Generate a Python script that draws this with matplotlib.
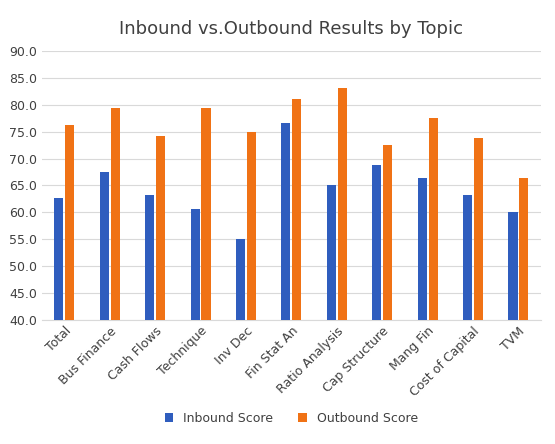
import numpy as np
import matplotlib.pyplot as plt

topics = ['Total', 'Bus Finance', 'Cash Flows', 'Technique', 'Inv Dec', 'Fin Stat An',
          'Ratio Analysis', 'Cap Structure', 'Mang Fin', 'Cost of Capital', 'TVM']
inbound = [62.7, 67.5, 63.3, 60.6, 55.0, 76.7, 65.0, 68.8, 66.3, 63.2, 60.1]
outbound = [76.2, 79.4, 74.2, 79.4, 75.0, 81.0, 83.2, 72.5, 77.6, 73.8, 66.3]

fig, ax = plt.subplots(figsize=(5.55, 4.44), dpi=100)
fig.subplots_adjust(left=0.075, right=0.975, top=0.885, bottom=0.28)

x = np.arange(len(topics))
w = 0.2
ax.bar(x - 0.12, inbound, w, bottom=0, color='#2F5DBE', label='Inbound Score', zorder=3)
ax.bar(x + 0.12, outbound, w, bottom=0, color='#F07215', label='Outbound Score', zorder=3)

ax.set_ylim(40, 90)
ax.set_yticks(np.arange(40, 91, 5))
ax.set_yticklabels([f'{v:.1f}' for v in np.arange(40, 91, 5)], fontsize=9, color='#404040')
ax.set_xticks(x)
ax.set_xticklabels(topics, rotation=45, ha='right', rotation_mode='anchor', fontsize=9, color='#404040')
ax.set_xlim(-0.5, len(topics) - 0.5)
ax.grid(axis='y', color='#d9d9d9', linewidth=0.8, zorder=0)
for s in ['top', 'right', 'left']:
    ax.spines[s].set_visible(False)
ax.spines['bottom'].set_color('#d9d9d9')
ax.tick_params(length=0)

ax.set_title('Inbound vs.Outbound Results by Topic', fontsize=13, color='#404040', pad=12)
ax.legend(loc='upper center', bbox_to_anchor=(0.5, -0.3), ncol=2, frameon=False,
          fontsize=9, handlelength=0.7, handleheight=0.7, labelcolor='#404040', columnspacing=2)

fig.savefig('out.png')
